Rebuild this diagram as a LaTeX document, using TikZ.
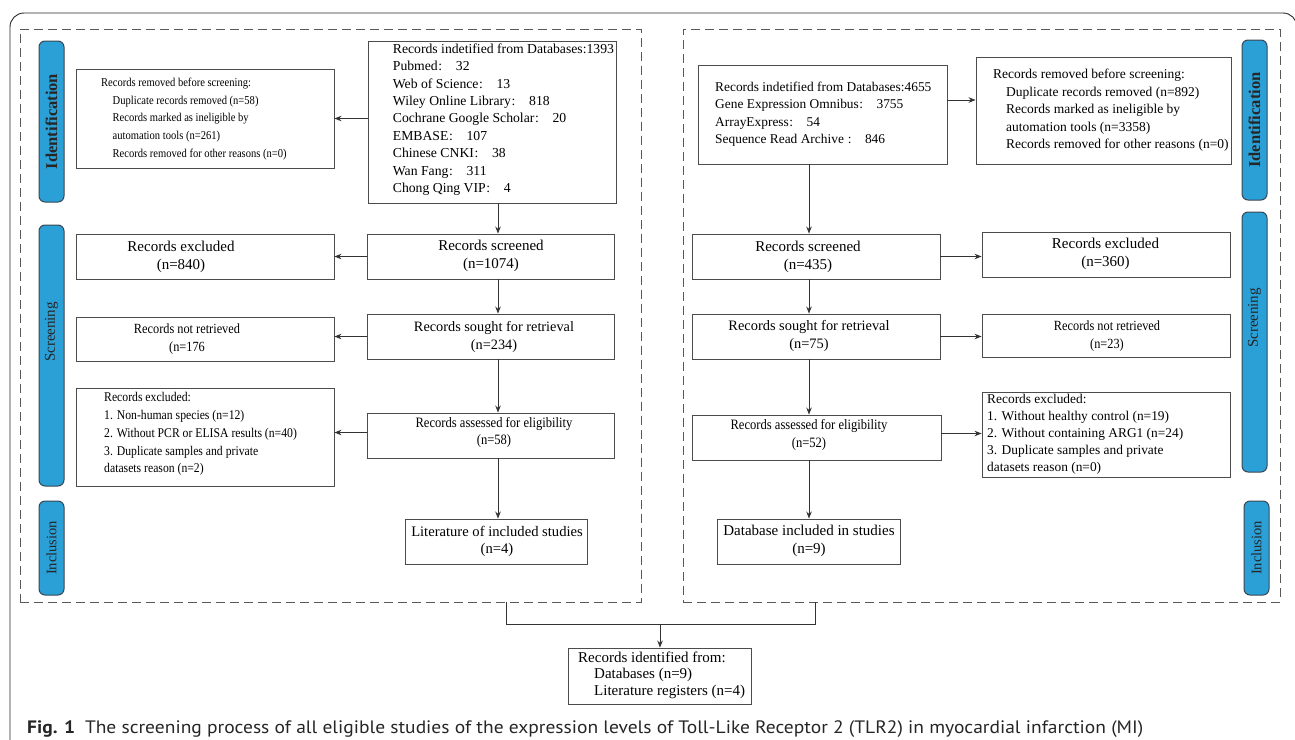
\documentclass[tikz,border=0pt]{standalone}
\usepackage{fontspec}
\usepackage{graphicx}
\setmainfont{Liberation Serif}
\newfontfamily\condserif[FakeStretch=0.88]{Liberation Serif}
\newfontfamily\capsans{PT Sans}
\usetikzlibrary{arrows.meta}

\definecolor{phaseblue}{RGB}{42,160,215}
\definecolor{phaseedge}{RGB}{58,70,82}

\newcommand*{\wc}{\kern0.6pt:\hspace{1em}}
\newcommand*{\indl}{\hspace*{11.5pt}}

\begin{document}
\begin{tikzpicture}[x=1pt,y=-1pt,
    box/.style={draw=black!70,line width=0.9pt,inner sep=0pt},
    panel/.style={draw=black!65,line width=0.9pt,dash pattern=on 9pt off 5pt,inner sep=0pt},
    phasebar/.style={draw=phaseedge,fill=phaseblue,line width=1pt,rounded corners=6pt,inner sep=0pt,minimum width=25pt},
    phasetext/.style={rotate=90,inner sep=0pt,text=black!85},
    arr/.style={draw=black!80,line width=0.9pt,-{Stealth[length=7pt,width=5.5pt]}},
    link/.style={draw=black!80,line width=0.9pt},
    ctxt/.style={inner sep=0pt,align=center},
    ltxt/.style={inner sep=0pt,align=left,anchor=west},
    big/.style={font=\fontsize{15}{18}\selectfont},
    list/.style={font=\fontsize{13.7}{17.4}\selectfont},
    cond/.style={font=\condserif\fontsize{#1}{17.8}\selectfont}]

    \useasboundingbox (0,0) rectangle (1295,739);

    % outer frame
    \draw[black!85,line width=0.9pt,rounded corners=14pt] (10,760) -- (10,13) -- (1297,13) -- (1297,760);

    % the two dashed panels
    \node[panel,minimum width=621,minimum height=573] (panL) at (330.5,315.5) {};
    \node[panel,minimum width=597,minimum height=573] (panR) at (981.5,315.5) {};

    % phase bars
    \foreach \nm/\x/\ya/\yb in {barIdL/51.5/41/202,barScL/51.5/225/486,barInL/51.5/501/595,
                                 barIdR/1254.5/40/200,barScR/1254.5/212/472,barInR/1256.5/501/595}
       \node[phasebar,minimum height={\yb-\ya}] (\nm) at (\x,{(\ya+\yb)/2}) {};

    \node[phasetext,font=\bfseries\fontsize{16.5}{18}\selectfont] (tIdL) at (barIdL) {Identification};
    \node[phasetext,font=\fontsize{15}{18}\selectfont] (tScL) at (51.5,332) {Screening};
    \node[phasetext,font=\fontsize{14.5}{18}\selectfont] (tInL) at (barInL) {Inclusion};
    \node[phasetext,font=\bfseries\fontsize{16.5}{18}\selectfont] (tIdR) at (barIdR) {Identification};
    \node[phasetext,font=\fontsize{15}{18}\selectfont] (tScR) at (1254.5,318) {Screening};
    \node[phasetext,font=\fontsize{14.5}{18}\selectfont] (tInR) at (barInR) {Inclusion};

    % left column boxes
    \node[box,minimum width=248,minimum height=162] (idL) at (492,122) {};
    \node[box,minimum width=258,minimum height=99] (remL) at (205,118.5) {};
    \node[box,minimum width=247,minimum height=45] (scrL) at (490.5,256.5) {};
    \node[box,minimum width=258,minimum height=45] (excL) at (205,256.5) {};
    \node[box,minimum width=247,minimum height=45] (srL) at (490.5,336.5) {};
    \node[box,minimum width=258,minimum height=44] (nrL) at (205,339) {};
    \node[box,minimum width=247,minimum height=45] (asL) at (490.5,435.5) {};
    \node[box,minimum width=258,minimum height=98] (exc2L) at (205,437) {};
    \node[box,minimum width=182,minimum height=45] (incL) at (496,541.5) {};

    % right column boxes
    \node[box,minimum width=249,minimum height=99] (idR) at (822.5,114.5) {};
    \node[box,minimum width=255,minimum height=107] (remR) at (1103.5,110.5) {};
    \node[box,minimum width=248,minimum height=45] (scrR) at (816,256.5) {};
    \node[box,minimum width=248,minimum height=45] (excR) at (1106,254.5) {};
    \node[box,minimum width=248,minimum height=45] (srR) at (816,336.5) {};
    \node[box,minimum width=248,minimum height=43] (nrR) at (1106,335.5) {};
    \node[box,minimum width=249,minimum height=45] (asR) at (816.5,437.5) {};
    \node[box,minimum width=248,minimum height=85] (exc2R) at (1106,434.5) {};
    \node[box,minimum width=183,minimum height=45] (incR) at (808.5,541.5) {};

    \node[box,minimum width=183,minimum height=56] (recB) at (659.5,676) {};

    % left texts
    \node[ltxt,list] (idLt) at (392.7,119.5) {Records indetified from Databases:1393\\Pubmed\wc 32\\Web of Science\wc 13\\Wiley Online Library\wc 818\\Cochrane Google Scholar\wc 20\\EMBASE\wc 107\\Chinese CNKI\wc 38\\Wan Fang\wc 311\\Chong Qing VIP\wc 4};
    \node[ltxt,cond=12] (remLt) at (101,119) {Records removed before screening:\\\indl Duplicate records removed (n=58)\\\indl Records marked as ineligible by\\\indl automation tools (n=261)\\\indl Records removed for other reasons (n=0)};
    \node[ctxt,big] (scrLt) at (491,256) {Records screened\\(n=1074)};
    \node[ctxt,big] (excLt) at (181,256.5) {Records excluded\\(n=840)};
    \node[ctxt,font=\fontsize{14.3}{18}\selectfont] (srLt) at (494,336.5) {Records sought for retrieval\\(n=234)};
    \node[ctxt,cond=14] (nrLt) at (187,339) {Records not retrieved\\(n=176};
    \node[ctxt,cond=14.3] (asLt) at (494,432.5) {Records assessed for eligibility\\(n=58)};
    \node[ltxt,cond=13.3] (exc2Lt) at (104,434) {Records excluded:\\1. Non-human species (n=12)\\2. Without PCR or ELISA results (n=40)\\3. Duplicate samples and private\\datasets reason (n=2)};
    \node[ctxt,font=\fontsize{14.6}{17.3}\selectfont] (incLt) at (497,541.4) {Literature of included studies\\(n=4)};

    % right texts
    \node[ltxt,font=\fontsize{13.4}{17.3}\selectfont] (idRt) at (715,114.2) {Records indetified from Databases:4655\\Gene Expression Omnibus\wc 3755\\ArrayExpress\wc 54\\Sequence Read Archive \wc 846};
    \node[ltxt,font=\fontsize{13.5}{17.5}\selectfont] (remRt) at (993,110.5) {Records removed before screening:\\\hspace*{13pt}Duplicate records removed (n=892)\\\hspace*{13pt}Records marked as ineligible by\\\hspace*{13pt}automation tools (n=3358)\\\hspace*{13pt}Records removed for other reasons (n=0)};
    \node[ctxt,big] (scrRt) at (808,256.5) {Records screened\\(n=435)};
    \node[ctxt,big] (excRt) at (1105.5,254) {Records excluded\\(n=360)};
    \node[ctxt,font=\fontsize{14.4}{18}\selectfont] (srRt) at (809,336.4) {Records sought for retrieval\\(n=75)};
    \node[ctxt,cond=14] (nrRt) at (1107,336) {Records not retrieved\\(n=23)};
    \node[ctxt,cond=14.3] (asRt) at (809,435) {Records assessed for eligibility\\(n=52)};
    \node[ltxt,font=\fontsize{13.4}{17}\selectfont] (exc2Rt) at (987,434.3) {Records excluded:\\1. Without healthy control (n=19)\\2. Without containing ARG1 (n=24)\\3. Duplicate samples and private\\datasets reason (n=0)};
    \node[ctxt,big] (incRt) at (809,541) {Database included in studies\\(n=9)};

    \node[ltxt,font=\fontsize{15}{16.3}\selectfont] (recBt) at (578,675.3) {Records identified from:\\\hspace*{16pt}Databases (n=9)\\\hspace*{16pt}Literature registers (n=4)};

    % arrows
    \coordinate (colL) at (498,0);
    \coordinate (colR) at (809,0);
    \draw[arr] (idL.south -| colL) -- (scrL.north -| colL);
    \draw[arr] (scrL.south -| colL) -- (srL.north -| colL);
    \draw[arr] (srL.south -| colL) -- (asL.north -| colL);
    \draw[arr] (asL.south -| colL) -- (incL.north -| colL);
    \draw[arr] (idL.west |- remL.east) -- (remL.east);
    \draw[arr] (scrL.west) -- (excL.east |- scrL.west);
    \draw[arr] (srL.west) -- (nrL.east |- srL.west);
    \draw[arr] ([yshift=3]asL.west) -- ([yshift=3]asL.west -| exc2L.east);

    \draw[arr] (idR.south -| colR) -- (scrR.north -| colR);
    \draw[arr] (scrR.south -| colR) -- (srR.north -| colR);
    \draw[arr] (srR.south -| colR) -- (asR.north -| colR);
    \draw[arr] (asR.south -| colR) -- (incR.north -| colR);
    \draw[arr] ([yshift=14.5]idR.east) -- ([yshift=14.5]idR.east -| remR.west);
    \draw[arr] (scrR.east) -- (excR.west |- scrR.east);
    \draw[arr] (srR.east) -- (nrR.west |- srR.east);
    \draw[arr] ([yshift=4]asR.east) -- ([yshift=4]asR.east -| exc2R.west);

    % joining the two panels
    \coordinate (jL) at (506,624);
    \coordinate (jR) at (815,624);
    \coordinate (jM) at (660,624);
    \draw[link] (panL.south -| jL) -- (jL) -- (jR) -- (panR.south -| jR);
    \draw[arr] (jM) -- (recB.north -| jM);

    % caption
    \node[anchor=base west,inner sep=0pt,text=black!85] (cap) at (27,733) {\resizebox{1116pt}{\height}{\capsans\fontsize{18}{20}\selectfont\textbf{Fig. 1}\hspace{0.5em}The screening process of all eligible studies of the expression levels of Toll-Like Receptor 2 (TLR2) in myocardial infarction (MI)}};

\end{tikzpicture}
\end{document}
